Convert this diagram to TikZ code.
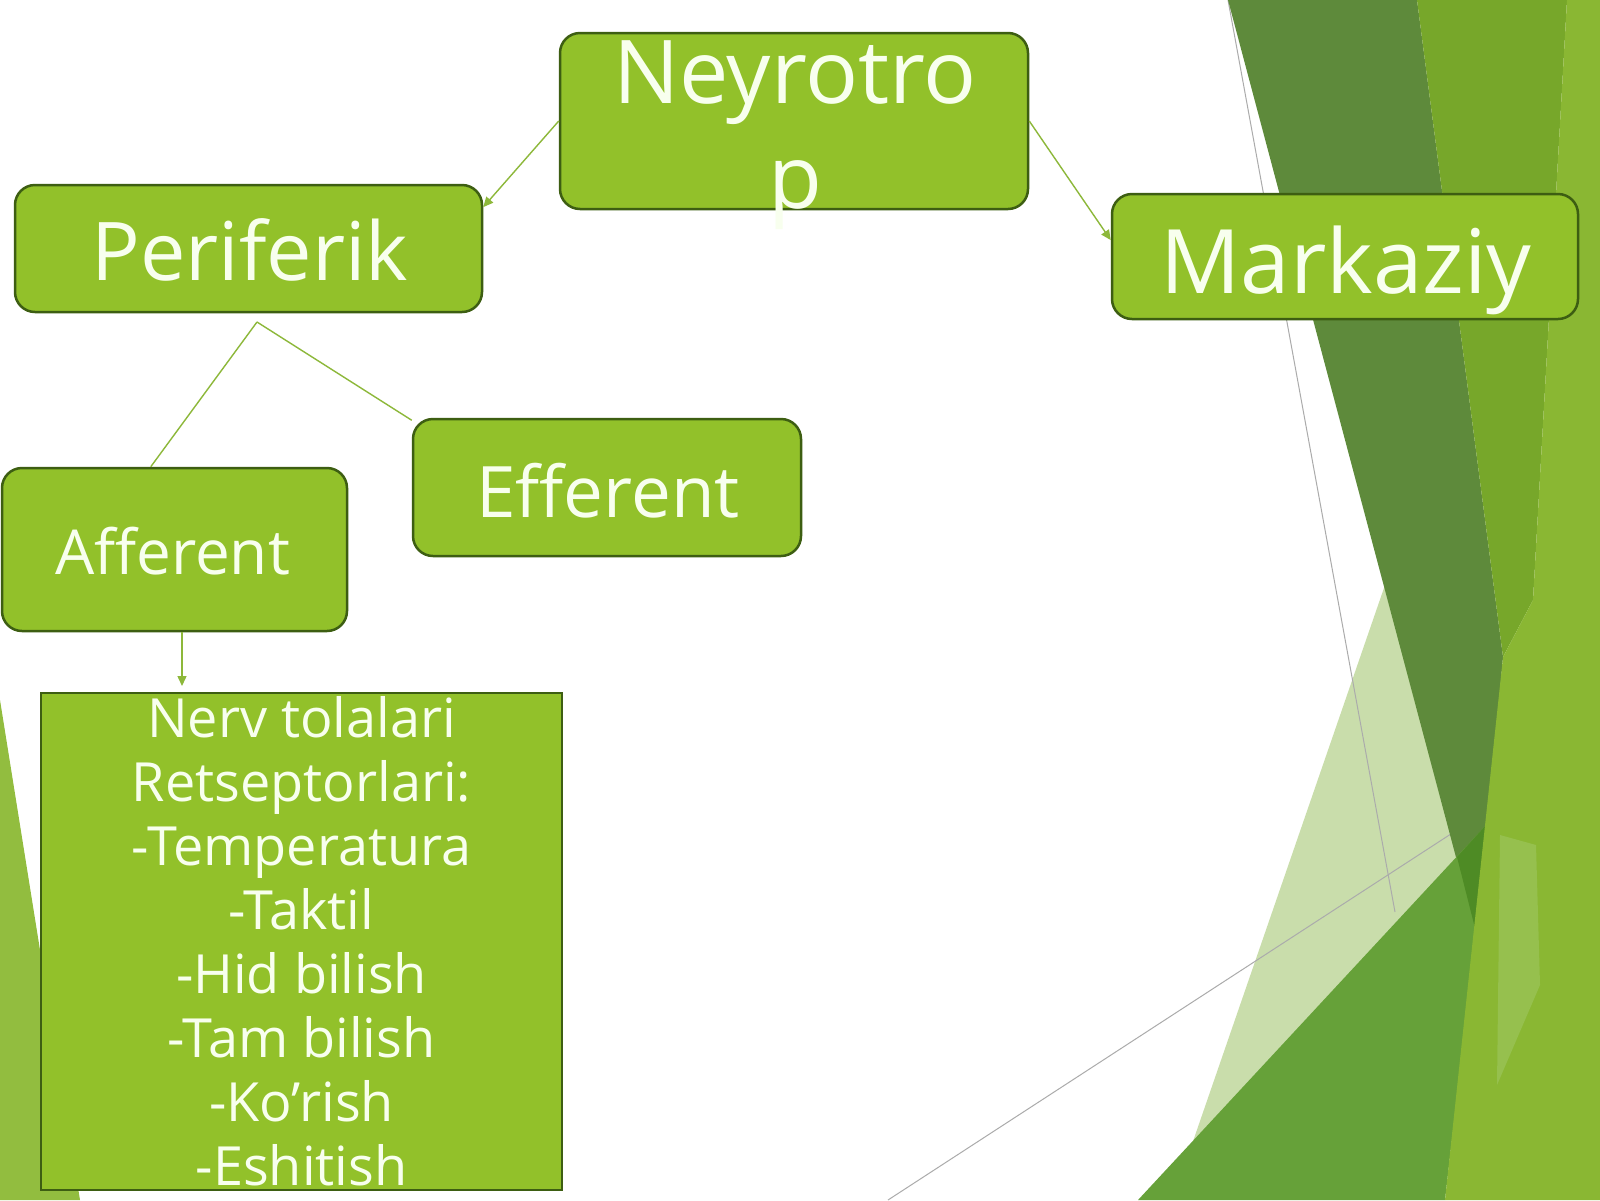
\documentclass[tikz,border=0pt]{standalone}
\usepackage{fontspec}
\setmainfont{Open Sans}
\usetikzlibrary{arrows.meta}
\definecolor{boxfill}{HTML}{92C12A}
\definecolor{boxline}{HTML}{3D5E12}
\definecolor{lbltext}{HTML}{F8FFEE}
\definecolor{linkgreen}{HTML}{8DB83A}
\definecolor{banddark}{HTML}{5E8A3B}
\definecolor{bandmid}{HTML}{66A139}
\definecolor{bandbright}{HTML}{77A72A}
\definecolor{bandfar}{HTML}{8AB733}
\definecolor{bandlight}{HTML}{C9DDAB}
\definecolor{bandpatch}{HTML}{96C04E}
\definecolor{bandover}{HTML}{4E8B25}
\definecolor{stripleft}{HTML}{92BD3F}
\definecolor{thingray}{HTML}{ABABAB}
\begin{document}
\begin{tikzpicture}[x=0.5pt,y=-0.5pt,
  facet/.style={draw=boxline,fill=boxfill,line width=1.25pt,rounded corners=10pt,inner sep=0pt},
  lbl/.style={text=lbltext,inner sep=0pt},
  link/.style={draw=linkgreen,line width=0.7pt},
  arr/.style={link,-{Triangle[length=5pt,width=4.5pt]}}]
\useasboundingbox (0,0) rectangle (1600,1200);
\fill [white] (0,0) rectangle (1600,1200);
\fill [stripleft] (0,700) -- (80,1200) -- (0,1200) -- cycle;
\fill [bandlight] (1385,585) -- (1458,857) -- (1190,1150) -- cycle;
\draw [thingray,line width=0.5pt] (1228,0) -- (1395,912);
\draw [thingray,line width=0.5pt] (888,1200) -- (1457,830);
\fill [banddark] (1228,0) -- (1417,0) -- (1503,657) -- (1478,940) -- cycle;
\fill [bandmid] (1138,1200) -- (1488,823) -- (1445,1200) -- cycle;
\fill [bandover] (1457,857) -- (1488,823) -- (1478,940) -- cycle;
\fill [bandbright] (1417,0) -- (1567,0) -- (1533,600) -- (1503,657) -- cycle;
\fill [bandfar] (1567,0) -- (1600,0) -- (1600,1200) -- (1445,1200) -- (1503,657) -- (1533,600) -- cycle;
\fill [bandpatch] (1500,835) -- (1536,845) -- (1540,985) -- (1497,1085) -- cycle;
\node [facet,minimum width=234pt,minimum height=88pt] (neyro) at (794,121) {};
\node [facet,minimum width=233.5pt,minimum height=63.5pt] (perif) at (248.5,248.5) {};
\node [facet,minimum width=233pt,minimum height=62.5pt] (markaz) at (1345,256.5) {};
\node [facet,minimum width=194pt,minimum height=68.5pt] (effer) at (607,487.5) {};
\node [facet,minimum width=172.5pt,minimum height=81.5pt] (affer) at (174.5,549.5) {};
\node [draw=boxline,fill=boxfill,line width=1pt,inner sep=0pt,minimum width=260.5pt,minimum height=248.5pt] (nerv) at (301.5,941.5) {};
\node [lbl,anchor=north,align=center,font=\fontsize{44}{52.5}\selectfont] (neyrotxt) at (795,40.5) {Neyrotro\\p};
\node [lbl,anchor=base,font=\fontsize{40.5}{48}\selectfont] (periftxt) at (250,280) {Periferik};
\node [lbl,anchor=base,font=\fontsize{44.5}{53}\selectfont] (markaztxt) at (1346,293) {Markaziy};
\node [lbl,anchor=base,font=\fontsize{35.5}{42}\selectfont] (effertxt) at (608,517) {Efferent};
\node [lbl,anchor=base,font=\fontsize{31}{37}\selectfont] (affertxt) at (172.5,574) {Afferent};
\node [lbl,anchor=north,align=center,font=\fontsize{27}{32}\selectfont] (nervtxt) at (301.5,696) {Nerv tolalari\\Retseptorlari:\\-Temperatura\\-Taktil\\-Hid bilish\\-Tam bilish\\-Ko’rish\\-Eshitish};
\draw [arr] (neyro.west) -- (perif.10);
\draw [arr] (neyro.east) -- (markaz.176);
\coordinate (fork) at (257,322);
\draw [link] (fork) -- (affer.106);
\draw [link] (fork) -- (effer.161);
\coordinate (affdrop) at ([xshift=3.75pt]affer.south);
\draw [arr,shorten >=3pt] (affdrop) -- (affdrop |- nerv.north);
\end{tikzpicture}
\end{document}
